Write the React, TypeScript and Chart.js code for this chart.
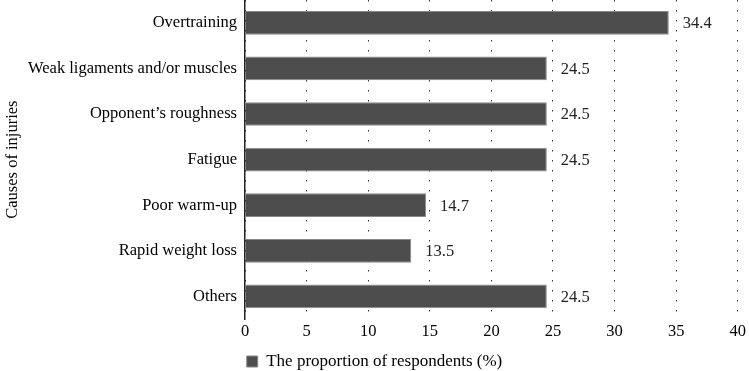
import React, { useEffect, useRef } from "react";
import { Chart, registerables } from "chart.js";

Chart.register(...registerables);

const categories = [
  "Overtraining",
  "Weak ligaments and/or muscles",
  "Opponent’s roughness",
  "Fatigue",
  "Poor warm-up",
  "Rapid weight loss",
  "Others",
];
const proportions = [34.4, 24.5, 24.5, 24.5, 14.7, 13.5, 24.5];
const seriesLabel = "The proportion of respondents (%)";
const yTitle = "Causes of injuries";
const xMin = 0;
const xMax = 40;
const xStep = 5;

const FONT = "'Liberation Serif', 'DejaVu Serif', serif";
const FS = 16.5;

const valueLabels = {
  id: "valueLabels",
  afterDatasetsDraw(chart: any) {
    const ctx = chart.ctx;
    const meta = chart.getDatasetMeta(0);
    const data = chart.data.datasets[0].data as number[];
    ctx.save();
    ctx.font = `${FS}px ${FONT}`;
    ctx.fillStyle = "#222";
    ctx.textAlign = "left";
    ctx.textBaseline = "middle";
    meta.data.forEach((el: any, i: number) => {
      ctx.fillText(data[i].toFixed(1), el.x + 14, el.y + 1);
    });
    ctx.restore();
  },
};

export default function App() {
  const ref = useRef<HTMLCanvasElement>(null);
  useEffect(() => {
    if (!ref.current) return;
    const chart = new Chart(ref.current, {
      type: "bar",
      data: {
        labels: categories,
        datasets: [
          {
            label: seriesLabel,
            data: proportions,
            backgroundColor: "#4d4d4d",
            borderColor: "#8a8a8a",
            borderWidth: 1,
            barPercentage: 0.52,
            categoryPercentage: 1,
          },
        ],
      },
      options: {
        indexAxis: "y",
        responsive: false,
        animation: false,
        layout: { padding: { top: 0, bottom: -9, left: 0, right: 0 } },
        plugins: {
          tooltip: { enabled: false },
          legend: {
            position: "bottom",
            labels: {
              boxWidth: 11,
              boxHeight: 11,
              color: "#000",
              font: { family: FONT, size: 17 },
              padding: 8,
            },
          },
        },
        scales: {
          x: {
            min: xMin,
            max: xMax,
            ticks: {
              stepSize: xStep,
              color: "#000",
              font: { family: FONT, size: FS },
              padding: 3,
            },
            grid: {
              color: "#333",
              lineWidth: 1,
              drawTicks: false,
              tickLength: 0,
            },
            border: { display: false, dash: [1.5, 8.5] },
          },
          y: {
            ticks: {
              color: "#000",
              font: { family: FONT, size: FS },
              padding: 8,
            },
            grid: { display: false, drawTicks: false },
            border: { display: true, color: "#222", width: 1.5 },
            title: {
              display: true,
              text: yTitle,
              color: "#000",
              font: { family: FONT, size: FS },
              padding: { top: 3, bottom: 0 },
            },
            afterFit: (scale: any) => {
              scale.width = 245;
              scale.paddingTop = 0;
              scale.paddingBottom = 0;
            },
          },
        },
      },
      plugins: [valueLabels],
    });
    return () => chart.destroy();
  }, []);
  return (
    <div style={{ position: "fixed", left: 0, top: 0, width: 749, height: 371, background: "#fff" }}>
      <canvas ref={ref} width={749} height={371} style={{ display: "block" }} />
    </div>
  );
}
